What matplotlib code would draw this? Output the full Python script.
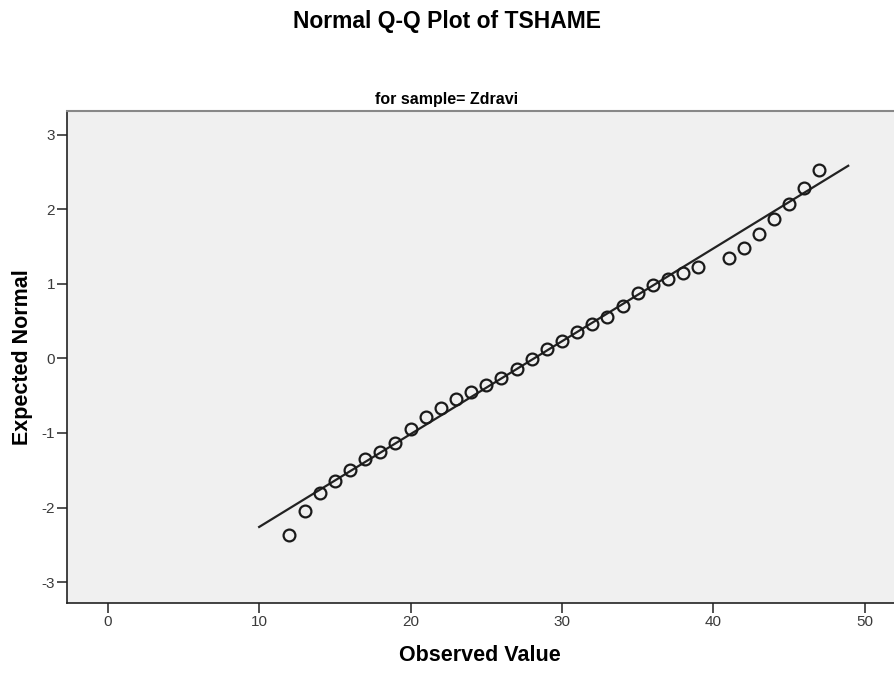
import numpy as np
import matplotlib
matplotlib.use('Agg')
import matplotlib.pyplot as plt

plt.rcParams['font.family'] = ['Liberation Sans', 'DejaVu Sans']
plt.rcParams['axes.unicode_minus'] = False

observed = np.array([12, 13, 14, 15, 16, 17, 18, 19, 20, 21, 22, 23, 24, 25,
                     26, 27, 28, 29, 30, 31, 32, 33, 34, 35, 36, 37, 38, 39,
                     41, 42, 43, 44, 45, 46, 47])
expected = np.array([-2.37, -2.04, -1.81, -1.65, -1.50, -1.35, -1.25, -1.14,
                     -0.94, -0.79, -0.67, -0.55, -0.445, -0.35, -0.26, -0.145,
                     -0.003, 0.13, 0.235, 0.36, 0.46, 0.56, 0.70, 0.88, 0.99,
                     1.07, 1.14, 1.22, 1.35, 1.485, 1.675, 1.87, 2.07, 2.28, 2.53])

# reference line: (x - mean) / sd
line_x = np.array([10, 48.9])
mean = 28.15
sd = 8.03

xticks = [0, 10, 20, 30, 40, 50]
yticks = [-3, -2, -1, 0, 1, 2, 3]

fig = plt.figure(figsize=(8.94, 6.75), dpi=100)
ax = fig.add_axes([0.0746, 0.1067, 0.925, 0.729])
ax.set_facecolor('#f0f0f0')

ax.plot(line_x, (line_x - mean) / sd, '-', color='#222222', lw=1.6)
ax.plot(observed, expected, 'o', mfc='none', mec='#1a1a1a', mew=1.6, ms=8.5)

ax.set_xlim(-2.71, 51.9)
ax.set_ylim(-3.28, 3.32)
ax.set_xticks(xticks)
ax.set_yticks(yticks)
ax.tick_params(direction='out', length=7, width=1.2, color='#333333',
               labelsize=11, labelcolor='#3a3a3a', pad=1.5)

for s in ['left', 'bottom']:
    ax.spines[s].set_color('#222222')
    ax.spines[s].set_linewidth(1.2)
ax.spines['top'].set_color('#888888')
ax.spines['top'].set_linewidth(1.5)
ax.spines['right'].set_visible(False)

ax.set_xlabel('Observed Value', fontsize=15.5, fontweight='bold', labelpad=12)
ax.set_ylabel('Expected Normal', fontsize=15.5, fontweight='bold', labelpad=6)

fig.text(0.5, 0.968, 'Normal Q-Q Plot of TSHAME', ha='center', va='center',
         fontsize=16.5, fontweight='bold')
fig.text(0.5, 0.852, 'for sample= Zdravi', ha='center', va='center',
         fontsize=11.5, fontweight='bold')

fig.savefig('out.png', dpi=100)
